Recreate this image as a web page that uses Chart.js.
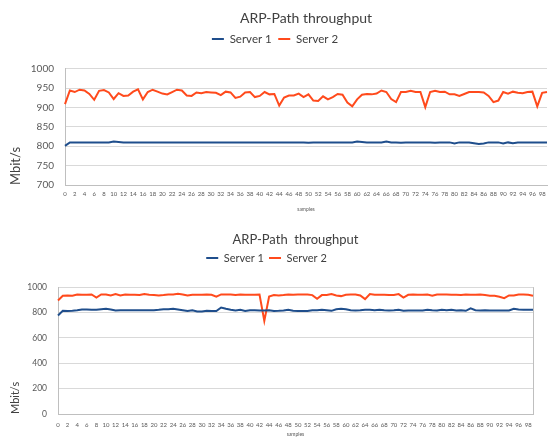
<!DOCTYPE html>
<html>
<head>
<meta charset="utf-8">
<script src="https://cdn.jsdelivr.net/npm/chart.js@4/dist/chart.umd.min.js"></script>
<style>
  html, body { margin: 0; padding: 0; background: #ffffff; }
  body { width: 550px; height: 437px; overflow: hidden; position: relative; }
  #wrapTop { position: absolute; left: 0; top: 0; width: 552px; height: 218px; }
  #wrapBot { position: absolute; left: 0; top: 220px; width: 550px; height: 217px; }
</style>
</head>
<body>
<div id="wrapTop"><canvas id="top" width="552" height="218"></canvas></div>
<div id="wrapBot"><canvas id="bot" width="550" height="217"></canvas></div>
<script>
// ---------- data ----------
const samples = Array.from({length: 100}, (_, i) => String(i));

const topTitle = 'ARP-Path throughput';
const botTitle = 'ARP-Path  throughput';
const seriesNames = ['Server 1', 'Server 2'];

const topServer1 = [
  801,810,810,810,810,810,810,810,810,810,
  812,811,810,810,810,810,810,810,810,810,
  810,810,810,810,810,810,810,810,810,810,
  810,810,810,810,810,810,810,810,810,810,
  810,810,810,810,810,810,810,810,810,810,
  809,810,810,810,810,810,810,810,810,810,
  812,811,810,810,810,810,812,810,810,809,
  810,810,810,810,810,810,809,810,810,810,
  807,810,810,810,808,806,807,810,810,810,
  807,810,808,810,810,810,810,810,810,810
];
const topServer2 = [
  909,944,940,946,944,935,920,943,945,939,
  922,937,930,931,941,947,921,940,946,941,
  936,934,940,946,944,931,930,939,937,940,
  939,938,932,941,939,925,928,939,940,927,
  930,940,934,935,905,926,931,931,936,927,
  934,918,917,929,921,927,935,933,913,903,
  921,933,935,934,936,944,940,922,914,940,
  940,943,940,940,901,940,943,940,941,934,
  934,930,935,940,940,940,939,930,914,918,
  940,936,941,938,937,940,941,903,938,940
];
const botServer1 = [
  776,813,811,813,818,824,824,821,821,826,
  829,824,816,818,818,818,818,818,818,818,
  818,821,826,826,829,824,818,811,818,808,
  808,813,811,811,839,829,821,816,821,811,
  818,818,816,816,818,811,813,816,821,813,
  811,811,811,818,818,821,818,813,826,829,
  826,818,816,818,821,821,818,821,818,816,
  818,821,813,816,816,816,816,821,818,816,
  821,818,821,816,818,813,832,818,816,818,
  816,816,816,816,816,829,824,821,821,821
];
const botServer2 = [
  895,932,934,932,942,939,939,942,918,942,
  942,934,945,934,942,939,939,937,945,939,
  937,934,937,942,942,947,942,934,939,939,
  939,942,939,924,942,942,942,937,942,939,
  939,939,942,734,926,937,934,937,942,939,
  942,942,942,937,908,937,937,945,934,929,
  939,942,942,934,905,945,939,939,939,937,
  937,945,918,939,942,939,939,942,932,942,
  942,942,939,939,937,942,939,939,942,937,
  932,932,924,913,934,934,942,942,939,932
];
const topYTicks = {min: 700, max: 1000, step: 50};
const botYTicks = {min: 0, max: 1000, step: 200};

// ---------- style ----------
const BLUE = '#1f4e8c';
const ORANGE = '#ff4a1c';
const GRID = '#d9d9d9';
const AXIS = '#bfbfbf';
const TXT = '#595959';
const DARK = '#404040';

Chart.defaults.font.family = 'Lato, "Open Sans", sans-serif';
Chart.defaults.animation = false;

function legendGap(extra) {
  return {
    id: 'legendGap',
    beforeInit(chart) {
      const fit = chart.legend.fit;
      chart.legend.fit = function () { fit.call(this); this.height += extra; };
    }
  };
}

function datasets(s1, s2) {
  return [
    {label: seriesNames[0], data: s1, borderColor: BLUE, backgroundColor: BLUE,
     borderWidth: 2, pointRadius: 0, tension: 0},
    {label: seriesNames[1], data: s2, borderColor: ORANGE, backgroundColor: ORANGE,
     borderWidth: 2, pointRadius: 0, tension: 0}
  ];
}

const evenLabel = function (val, idx) { return idx % 2 === 0 ? samples[idx] : ''; };
const plainNum = function (v) { return String(v); };

// ---------- top chart ----------
new Chart(document.getElementById('top'), {
  type: 'line',
  data: {labels: samples, datasets: datasets(topServer1, topServer2)},
  plugins: [legendGap(14)],
  options: {
    responsive: false,
    layout: {padding: {left: 0, right: 2, top: 0, bottom: 0}},
    plugins: {
      title: {display: true, text: topTitle, color: DARK, fullSize: false,
              font: {size: 14, weight: 'normal'}, padding: {top: 10, bottom: 0}},
      legend: {display: true, position: 'top',
               labels: {usePointStyle: true, pointStyle: 'line', pointStyleWidth: 12,
                        color: DARK, font: {size: 11.5}, padding: 6.5}},
      tooltip: {enabled: false}
    },
    scales: {
      x: {
        type: 'category',
        grid: {display: false, drawTicks: false},
        border: {display: true, color: AXIS, width: 1},
        ticks: {autoSkip: false, maxRotation: 0, minRotation: 0, padding: 5,
                font: {size: 6}, color: TXT, callback: evenLabel},
        title: {display: true, text: 'samples', color: TXT, font: {size: 5},
                padding: {top: 0, bottom: 6}},
        afterFit(s) { s.height = 33; }
      },
      y: {
        min: topYTicks.min, max: topYTicks.max,
        grid: {color: GRID, drawTicks: false},
        border: {display: true, color: AXIS, width: 1},
        ticks: {stepSize: topYTicks.step, padding: 11, font: {size: 10}, color: TXT,
                callback: plainNum},
        title: {display: true, text: 'Mbit/s', color: DARK, align: 'start',
                font: {size: 13}, padding: {top: 8, bottom: 0}},
        afterFit(s) { s.width = 65; }
      }
    }
  }
});

// ---------- bottom chart ----------
new Chart(document.getElementById('bot'), {
  type: 'line',
  data: {labels: samples, datasets: datasets(botServer1, botServer2)},
  plugins: [legendGap(13.5)],
  options: {
    responsive: false,
    layout: {padding: {left: 0, right: 17, top: 0, bottom: 0}},
    plugins: {
      title: {display: true, text: botTitle, color: DARK, fullSize: false,
              font: {size: 13, weight: 'normal'}, padding: {top: 12, bottom: 0}},
      legend: {display: true, position: 'top',
               labels: {usePointStyle: true, pointStyle: 'line', pointStyleWidth: 12,
                        color: DARK, font: {size: 11}, padding: 5}},
      tooltip: {enabled: false}
    },
    scales: {
      x: {
        type: 'category',
        grid: {display: true, drawTicks: false,
               color: (c) => (c.index === samples.length - 1 ? AXIS : 'rgba(0,0,0,0)')},
        border: {display: true, color: AXIS, width: 1},
        ticks: {autoSkip: false, maxRotation: 0, minRotation: 0, padding: 7,
                font: {size: 6}, color: TXT, callback: evenLabel},
        title: {display: true, text: 'samples', color: TXT, font: {size: 5},
                padding: {top: 0, bottom: 0}},
        afterFit(s) { s.height = 23; }
      },
      y: {
        min: botYTicks.min, max: botYTicks.max,
        grid: {color: GRID, drawTicks: false},
        border: {display: true, color: AXIS, width: 1},
        ticks: {stepSize: botYTicks.step, padding: 11, font: {size: 8.5}, color: TXT,
                callback: plainNum},
        title: {display: true, text: 'Mbit/s', color: DARK, align: 'start',
                font: {size: 11}, padding: {top: 9, bottom: 0}},
        afterFit(s) { s.width = 58; }
      }
    }
  }
});
</script>
</body>
</html>
